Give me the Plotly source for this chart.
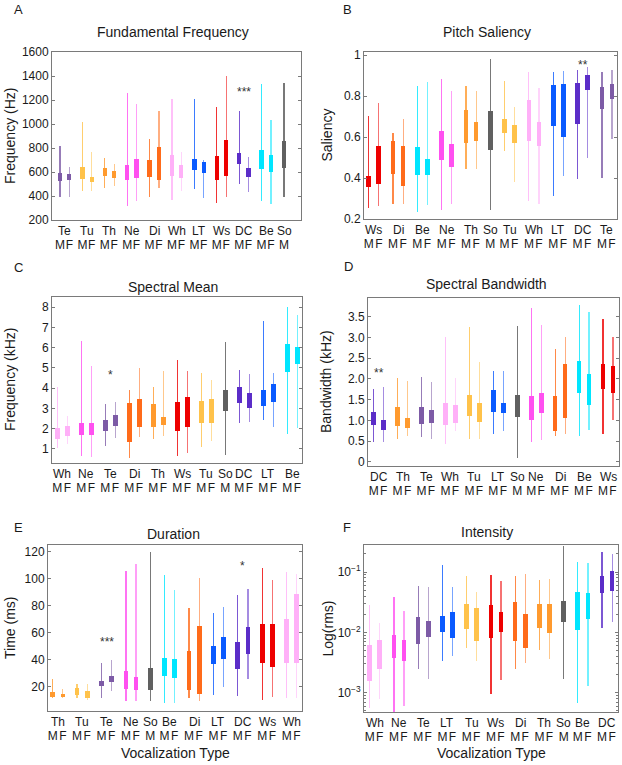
import plotly.graph_objects as go

W, H = 622, 765
FONT = "Liberation Sans, Arial, Helvetica, sans-serif"
TXT = "#1a1a1a"
FRAME = "#7a7a7a"

COLORS = {
    "Te": "#7d5ba6", "DC": "#5b2dc8", "Tu": "#ffc24a", "Th": "#ff9a2e",
    "Ne": "#ff50f0", "Di": "#ff6b1a", "Wh": "#ffb0f8", "LT": "#0a5aff",
    "Ws": "#ee0000", "Be": "#00e6ff", "So": "#606060",
}

# ---------------- data (bar order: M, F per group; So has only M) ----------
A_groups = ["Te", "Tu", "Th", "Ne", "Di", "Wh", "LT", "Ws", "DC", "Be", "So"]
A_lo = [390, 395, 440, 440, 465, 480, 320, 355, 390, 465, 370, 440, 460, 385, 340, 390, 500, 435, 355, 335, 390]
A_q1 = [525, 535, 540, 515, 565, 550, 535, 550, 555, 535, 565, 550, 620, 590, 535, 570, 665, 555, 625, 600, 635]
A_q3 = [590, 580, 645, 555, 635, 605, 655, 705, 700, 805, 740, 655, 710, 680, 735, 870, 760, 630, 780, 740, 860]
A_hi = [820, 640, 1015, 770, 715, 665, 1260, 1170, 875, 1105, 1205, 770, 1210, 700, 1140, 1400, 1110, 725, 1330, 1035, 1345]

B_groups = ["Ws", "Di", "Be", "Ne", "Th", "So", "Tu", "Wh", "LT", "DC", "Te"]
B_lo = [0.255, 0.265, 0.275, 0.275, 0.235, 0.27, 0.245, 0.275, 0.445, 0.445, 0.245, 0.53, 0.38, 0.29, 0.275, 0.31, 0.41, 0.395, 0.50, 0.40, 0.59]
B_q1 = [0.355, 0.37, 0.42, 0.36, 0.415, 0.415, 0.49, 0.455, 0.57, 0.58, 0.535, 0.62, 0.57, 0.58, 0.555, 0.655, 0.60, 0.665, 0.83, 0.735, 0.785]
B_q3 = [0.41, 0.555, 0.58, 0.555, 0.55, 0.495, 0.63, 0.565, 0.73, 0.675, 0.725, 0.69, 0.66, 0.78, 0.675, 0.855, 0.86, 0.862, 0.905, 0.845, 0.86]
B_hi = [0.705, 0.765, 0.62, 0.69, 0.85, 0.87, 0.885, 0.825, 0.85, 0.825, 0.98, 0.875, 0.745, 0.915, 0.84, 0.915, 0.92, 0.925, 0.94, 0.915, 0.925]

C_groups = ["Wh", "Ne", "Te", "Di", "Th", "Ws", "Tu", "So", "DC", "LT", "Be"]
C_lo = [1.05, 1.25, 0.67, 0.6, 1.15, 1.55, 0.56, 1.57, 1.48, 1.65, 0.63, 0.77, 1.1, 1.38, 0.72, 2.3, 2.35, 2.4, 2.1, 1.75, 2.03]
C_q1 = [1.5, 1.62, 1.7, 1.7, 1.87, 2.13, 1.33, 2.1, 2.1, 2.2, 1.9, 2.07, 2.27, 2.3, 2.88, 3.28, 3.02, 3.13, 3.32, 4.78, 5.2]
C_q3 = [2.05, 2.12, 2.3, 2.3, 2.42, 2.67, 3.25, 3.47, 3.22, 2.55, 3.3, 3.57, 3.35, 3.45, 3.9, 4.07, 3.78, 3.93, 4.18, 6.17, 6.05]
C_hi = [4.05, 2.6, 6.35, 5.1, 3.22, 3.32, 3.9, 4.98, 4.07, 4.85, 5.38, 4.86, 4.73, 4.4, 6.28, 4.88, 4.7, 7.3, 4.77, 8.03, 7.6]

D_groups = ["DC", "Th", "Te", "Wh", "Tu", "LT", "So", "Ne", "Di", "Be", "Ws"]
D_lo = [0.48, 0.48, 0.54, 0.62, 0.6, 0.54, 0.44, 0.74, 0.54, 0.54, 0.68, 0.75, 0.1, 0.48, 0.52, 0.63, 0.67, 0.62, 0.78, 0.68, 1.01]
D_q1 = [0.9, 0.78, 0.87, 0.82, 0.91, 0.93, 0.89, 0.94, 1.11, 0.97, 1.19, 1.18, 1.09, 1.02, 1.18, 0.75, 1.05, 1.65, 1.38, 1.75, 1.65]
D_q3 = [1.19, 1.02, 1.33, 1.05, 1.33, 1.25, 1.41, 1.37, 1.61, 1.43, 1.73, 1.43, 1.62, 1.59, 1.65, 1.59, 2.37, 2.42, 2.12, 2.37, 2.31]
D_hi = [1.75, 1.8, 2.01, 1.96, 2.05, 1.92, 3.02, 2.02, 3.24, 2.4, 2.18, 2.18, 3.27, 3.72, 3.3, 2.71, 3.0, 3.77, 3.62, 3.44, 3.02]

E_groups = ["Th", "Tu", "Te", "Ne", "So", "Be", "Di", "LT", "DC", "Ws", "Wh"]
E_lo = [12, 11.5, 11.4, 10.2, 12, 16.8, 9.5, 9.5, 9.4, 8, 8, 11.4, 9.4, 13.8, 20, 13, 25.4, 10, 12.3, 11.4, 11.4]
E_q1 = [12.7, 12.7, 13.6, 12, 20.5, 23.5, 18, 17.5, 17.5, 28, 26.7, 17.5, 14.3, 36.5, 40.2, 32.8, 44, 37.8, 34.6, 37.8, 37.8]
E_q3 = [16, 14.3, 18.8, 16.8, 24.2, 27.9, 31.6, 27.2, 34, 41.5, 40.2, 46.4, 65, 50, 57, 53.3, 64.2, 66.2, 66.2, 70.4, 89]
E_hi = [25.5, 18, 22.2, 21.7, 37.8, 39.5, 106, 111, 120, 102.5, 92, 78.5, 100.7, 74.8, 79, 88, 92.6, 107.7, 98.8, 105, 103.7]

F_groups = ["Wh", "Ne", "Te", "LT", "Tu", "Ws", "Di", "Th", "So", "Be", "DC"]
F_lo = [5.6e-4, 7.9e-4, 4.8e-4, 6.1e-4, 2.5e-3, 1.67e-3, 3.4e-3, 4.1e-3, 5.6e-3, 3.3e-3, 9.5e-4, 1.63e-3, 2.5e-3, 3.1e-3, 5.1e-3, 3.6e-3, 1.7e-3, 6.7e-4, 1.3e-3, 1.2e-2, 1.48e-2]
F_q1 = [1.56e-3, 2.5e-3, 3.8e-3, 3.4e-3, 6.4e-3, 8.5e-3, 1.03e-2, 8.2e-3, 1.14e-2, 7.2e-3, 8.2e-3, 1.03e-2, 7.2e-3, 5.5e-3, 1.2e-2, 9.7e-3, 1.48e-2, 1.1e-2, 1.68e-2, 4.5e-2, 4.8e-2]
F_q3 = [6.2e-3, 7.5e-3, 8.9e-3, 7.5e-3, 1.77e-2, 1.57e-2, 1.88e-2, 2.16e-2, 2.98e-2, 2.52e-2, 2.86e-2, 2.16e-2, 3.17e-2, 2.03e-2, 2.94e-2, 2.98e-2, 3.34e-2, 4.6e-2, 4.5e-2, 8.7e-2, 0.105]
F_hi = [2.9e-2, 1.42e-2, 3.8e-2, 2.27e-2, 6e-2, 5.6e-2, 0.129, 5.6e-2, 8.5e-2, 4.7e-2, 9e-2, 7.2e-2, 8.7e-2, 9.3e-2, 7.5e-2, 7.6e-2, 0.267, 0.147, 0.141, 0.212, 0.2]

# y tick labels
A_ticks = [200, 400, 600, 800, 1000, 1200, 1400, 1600]
B_ticks = [0.2, 0.4, 0.6, 0.8, 1]
B_ticktext = ["0.2", "0.4", "0.6", "0.8", "1"]
C_ticks = [1, 2, 3, 4, 5, 6, 7, 8]
D_ticks = [0, 0.5, 1.0, 1.5, 2.0, 2.5, 3.0, 3.5]
D_ticktext = ["0", "0.5", "1.0", "1.5", "2.0", "2.5", "3.0", "3.5"]
E_ticks = [20, 40, 60, 80, 100, 120]
F_ticks = [1e-3, 1e-2, 1e-1]
F_ticktext = ["10<sup>−3</sup>", "10<sup>−2</sup>", "10<sup>−1</sup>"]

# significance marks: (group, y, text)
A_stars = [("DC", 1290, "***")]
B_stars = [("DC", 0.968, "**")]
C_stars = [("Te", 4.8, "*")]
D_stars = [("DC", 2.22, "**")]
E_stars = [("Te", 55.6, "***"), ("DC", 112, "*")]
F_stars = []

# ---------------- layout (pixel frames) ----------------
panels = [
    dict(letter="A", title="Fundamental Frequency", ytitle="Frequency (Hz)", groups=A_groups,
         lo=A_lo, q1=A_q1, q3=A_q3, hi=A_hi, frame=(52, 301, 52, 220), xr=(-0.857, 25.82),
         yr=(200, 1600), ylog=False, tv=A_ticks, tt=[str(v) for v in A_ticks], stars=A_stars,
         letter_xy=(18, 10), title_xy=(173, 32), ytitle_x=10, xtitle=False),
    dict(letter="B", title="Pitch Saliency", ytitle="Saliency", groups=B_groups,
         lo=B_lo, q1=B_q1, q3=B_q3, hi=B_hi, frame=(364, 617, 52, 219), xr=(-0.46, 24.49),
         yr=(0.2, 1.015), ylog=False, tv=B_ticks, tt=B_ticktext, stars=B_stars,
         letter_xy=(347, 10), title_xy=(487, 32), ytitle_x=326, xtitle=False),
    dict(letter="C", title="Spectral Mean", ytitle="Frequency (kHz)", groups=C_groups,
         lo=C_lo, q1=C_q1, q3=C_q3, hi=C_hi, frame=(52, 302, 297, 463), xr=(-0.53, 24.47),
         yr=(0.3, 8.5), ylog=False, tv=C_ticks, tt=[str(v) for v in C_ticks], stars=C_stars,
         letter_xy=(18, 267), title_xy=(173, 287), ytitle_x=10, xtitle=False),
    dict(letter="D", title="Spectral Bandwidth", ytitle="Bandwidth (kHz)", groups=D_groups,
         lo=D_lo, q1=D_q1, q3=D_q3, hi=D_hi, frame=(368, 619, 298, 466), xr=(-0.57, 24.6),
         yr=(-0.1, 3.95), ylog=False, tv=D_ticks, tt=D_ticktext, stars=D_stars,
         letter_xy=(348, 266), title_xy=(486, 284), ytitle_x=326, xtitle=False),
    dict(letter="E", title="Duration", ytitle="Time (ms)", groups=E_groups,
         lo=E_lo, q1=E_q1, q3=E_q3, hi=E_hi, frame=(48, 302, 545, 711), xr=(-0.46, 24.51),
         yr=(2, 125), ylog=False, tv=E_ticks, tt=[str(v) for v in E_ticks], stars=E_stars,
         letter_xy=(18, 527), title_xy=(173, 534), ytitle_x=10, xtitle=True),
    dict(letter="F", title="Intensity", ytitle="Log(rms)", groups=F_groups,
         lo=F_lo, q1=F_q1, q3=F_q3, hi=F_hi, frame=(364, 618, 545, 712), xr=(-0.56, 24.58),
         yr=(-3.32, -0.55), ylog=True, tv=F_ticks, tt=F_ticktext, stars=F_stars,
         letter_xy=(347, 527), title_xy=(487, 532), ytitle_x=327, xtitle=True),
]


def hex_rgba(h, a):
    h = h.lstrip("#")
    return "rgba(%d,%d,%d,%.2f)" % (int(h[0:2], 16), int(h[2:4], 16), int(h[4:6], 16), a)


def positions(groups):
    pos, labels, cols, wcols, centers = [], [], [], [], {}
    p = 0.0
    for g in groups:
        c = COLORS[g]
        if g == "So":
            pos.append(p); labels.append("M"); cols.append(c); wcols.append(hex_rgba(c, 0.85))
            centers[g] = p
            p += 1.4
        else:
            pos += [p, p + 1]; labels += ["M", "F"]
            cols += [c, c]; wcols += [hex_rgba(c, 0.8), hex_rgba(c, 0.55)]
            centers[g] = p + 0.5
            p += 2.4
    return pos, labels, cols, wcols, centers


def px(x):
    return x / W


def py(y):
    return 1 - y / H


fig = go.Figure()
annotations = []
layout = {}
minor_log = []
for e in (-4, -3, -2, -1):
    for k in range(2, 10):
        minor_log.append(k * 10 ** e)

for i, P in enumerate(panels, start=1):
    xa = "x" if i == 1 else "x%d" % i
    ya = "y" if i == 1 else "y%d" % i
    pos, labels, cols, wcols, centers = positions(P["groups"])
    lo, q1, q3, hi = P["lo"], P["q1"], P["q3"], P["hi"]
    fig.add_trace(go.Bar(x=pos, y=[h - l for h, l in zip(hi, lo)], base=lo, width=0.12,
                         marker=dict(color=wcols, line=dict(width=0)), xaxis=xa, yaxis=ya,
                         showlegend=False, hoverinfo="skip"))
    fig.add_trace(go.Bar(x=pos, y=[b - a for b, a in zip(q3, q1)], base=q1, width=0.46,
                         marker=dict(color=cols, line=dict(width=0)), xaxis=xa, yaxis=ya,
                         showlegend=False, hoverinfo="skip"))
    x0, x1, y0, y1 = P["frame"]
    layout["xaxis" if i == 1 else "xaxis%d" % i] = dict(
        domain=[px(x0), px(x1)], range=list(P["xr"]), anchor=ya, automargin=False,
        tickvals=pos, ticktext=labels, ticks="", tickangle=0, showline=True, linecolor=FRAME,
        linewidth=1, mirror=True, showgrid=False, zeroline=False,
        tickfont=dict(size=12, color=TXT, family=FONT), ticklabelstandoff=14)
    yax = dict(
        domain=[py(y1), py(y0)], anchor=xa, tickvals=P["tv"], ticktext=P["tt"], automargin=False,
        ticks="inside", ticklen=3, tickcolor=FRAME, showline=True, linecolor=FRAME,
        linewidth=1, mirror="ticks", showgrid=False, zeroline=False,
        tickfont=dict(size=12, color=TXT, family=FONT))
    if P["ylog"]:
        yax.update(type="log", range=list(P["yr"]),
                   minor=dict(tickvals=minor_log, ticks="inside", ticklen=2, tickcolor=FRAME,
                              showgrid=False))
    else:
        yax.update(range=list(P["yr"]))
    layout["yaxis" if i == 1 else "yaxis%d" % i] = yax

    # group labels
    for g in P["groups"]:
        annotations.append(dict(x=centers[g], y=py(y1 + 11), xref=xa, yref="paper",
                                text=g, showarrow=False, xanchor="center", yanchor="middle",
                                font=dict(size=12, color=TXT, family=FONT)))
    # stars
    for g, yv, s in P["stars"]:
        annotations.append(dict(x=centers[g], y=yv, xref=xa, yref=ya, text=s, showarrow=False,
                                xanchor="center", yanchor="middle", yshift=-3,
                                font=dict(size=12, color="#333333", family=FONT)))
    # letter, title, y title
    lx, ly = P["letter_xy"]
    annotations.append(dict(x=px(lx), y=py(ly), xref="paper", yref="paper", text=P["letter"],
                            showarrow=False, xanchor="center", yanchor="middle",
                            font=dict(size=13, color=TXT, family=FONT)))
    tx, ty = P["title_xy"]
    annotations.append(dict(x=px(tx), y=py(ty), xref="paper", yref="paper", text=P["title"],
                            showarrow=False, xanchor="center", yanchor="middle",
                            font=dict(size=14, color=TXT, family=FONT)))
    annotations.append(dict(x=px(P["ytitle_x"]), y=py((y0 + y1) / 2), xref="paper", yref="paper",
                            text=P["ytitle"], textangle=-90, showarrow=False,
                            xanchor="center", yanchor="middle",
                            font=dict(size=14, color=TXT, family=FONT)))
    if P["xtitle"]:
        annotations.append(dict(x=px((x0 + x1) / 2), y=py(753), xref="paper", yref="paper",
                                text="Vocalization Type", showarrow=False,
                                xanchor="center", yanchor="middle",
                                font=dict(size=14, color=TXT, family=FONT)))

fig.update_layout(
    template="none",
    width=W, height=H, margin=dict(l=0, r=0, t=0, b=0, autoexpand=False),
    paper_bgcolor="white", plot_bgcolor="white", barmode="overlay",
    bargap=0, showlegend=False, annotations=annotations,
    font=dict(family=FONT, color=TXT), **layout)

fig.write_html(
    "out.html",
    config={"displayModeBar": False, "staticPlot": True},
    post_script="document.documentElement.style.margin='0';document.body.style.margin='0';"
                "document.body.style.padding='0';document.body.style.overflow='hidden';")
